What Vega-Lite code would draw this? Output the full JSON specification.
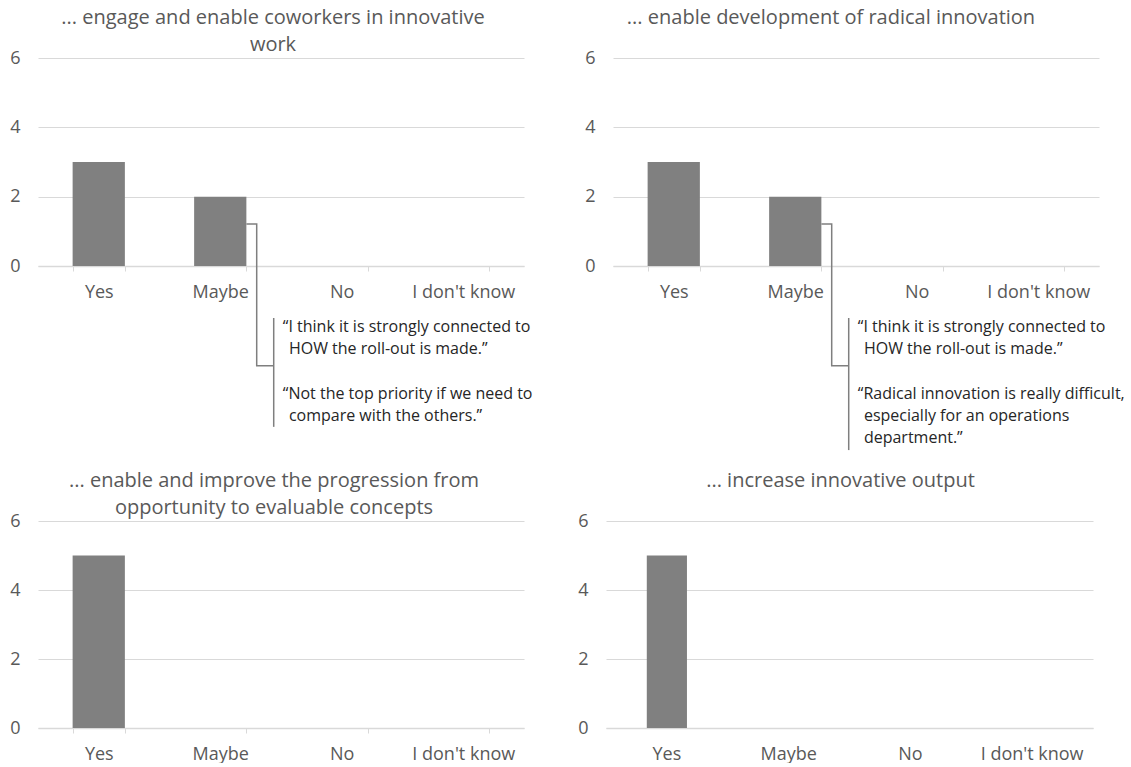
{
  "$schema": "https://vega.github.io/schema/vega-lite/v6.json",
  "padding": {"left": 9, "top": 8, "right": 0, "bottom": 0},
  "background": "white",
  "datasets": {
    "bars": [
      {"panel": "p1", "cat": "Yes", "n": 3},
      {"panel": "p1", "cat": "Maybe", "n": 2},
      {"panel": "p1", "cat": "No", "n": 0},
      {"panel": "p1", "cat": "I don't know", "n": 0},
      {"panel": "p2", "cat": "Yes", "n": 3},
      {"panel": "p2", "cat": "Maybe", "n": 2},
      {"panel": "p2", "cat": "No", "n": 0},
      {"panel": "p2", "cat": "I don't know", "n": 0},
      {"panel": "p3", "cat": "Yes", "n": 5},
      {"panel": "p3", "cat": "Maybe", "n": 0},
      {"panel": "p3", "cat": "No", "n": 0},
      {"panel": "p3", "cat": "I don't know", "n": 0},
      {"panel": "p4", "cat": "Yes", "n": 5},
      {"panel": "p4", "cat": "Maybe", "n": 0},
      {"panel": "p4", "cat": "No", "n": 0},
      {"panel": "p4", "cat": "I don't know", "n": 0}
    ],
    "links": [
      {"panel": "p1", "seg": "c", "ord": 1, "ax": 1.715, "ay": 1.21},
      {"panel": "p1", "seg": "c", "ord": 2, "ax": 1.80, "ay": 1.21},
      {"panel": "p1", "seg": "c", "ord": 3, "ax": 1.80, "ay": -2.88},
      {"panel": "p1", "seg": "c", "ord": 4, "ax": 1.94, "ay": -2.88},
      {"panel": "p1", "seg": "b", "ord": 1, "ax": 1.94, "ay": -1.50},
      {"panel": "p1", "seg": "b", "ord": 2, "ax": 1.94, "ay": -4.64},
      {"panel": "p2", "seg": "c", "ord": 1, "ax": 1.715, "ay": 1.21},
      {"panel": "p2", "seg": "c", "ord": 2, "ax": 1.80, "ay": 1.21},
      {"panel": "p2", "seg": "c", "ord": 3, "ax": 1.80, "ay": -2.88},
      {"panel": "p2", "seg": "c", "ord": 4, "ax": 1.94, "ay": -2.88},
      {"panel": "p2", "seg": "b", "ord": 1, "ax": 1.94, "ay": -1.50},
      {"panel": "p2", "seg": "b", "ord": 2, "ax": 1.94, "ay": -5.31}
    ],
    "notes": [
      {"panel": "p1", "ax": 2.015, "ay": -1.76, "t": "“I think it is strongly connected to"},
      {"panel": "p1", "ax": 2.065, "ay": -2.39, "t": "HOW the roll-out is made.”"},
      {"panel": "p1", "ax": 2.015, "ay": -3.69, "t": "“Not the top priority if we need to"},
      {"panel": "p1", "ax": 2.065, "ay": -4.33, "t": "compare with the others.”"},
      {"panel": "p2", "ax": 2.015, "ay": -1.76, "t": "“I think it is strongly connected to"},
      {"panel": "p2", "ax": 2.065, "ay": -2.39, "t": "HOW the roll-out is made.”"},
      {"panel": "p2", "ax": 2.015, "ay": -3.69, "t": "“Radical innovation is really difficult,"},
      {"panel": "p2", "ax": 2.065, "ay": -4.33, "t": "especially for an operations"},
      {"panel": "p2", "ax": 2.065, "ay": -4.96, "t": "department.”"}
    ]
  },
  "config": {
    "font": "Open Sans",
    "view": {"stroke": null},
    "title": {"fontSize": 20, "fontWeight": "normal", "color": "#595959", "lineHeight": 27, "anchor": "middle", "font": "Open Sans"},
    "axis": {"labelFont": "Open Sans", "labelFontSize": 18, "labelColor": "#595959", "title": null, "gridColor": "#d9d9d9", "domainColor": "#d9d9d9", "tickColor": "#d9d9d9"},
    "axisY": {"domain": false, "ticks": false, "labelPadding": 18, "grid": true},
    "axisX": {"grid": false, "labelAngle": 0, "zindex": 1, "domainWidth": 1.5}
  },
  "vconcat": [
    {
      "hconcat": [
        {
          "width": 486, "height": 208,
          "title": {"text": ["... engage and enable coworkers in innovative", "work"], "dx": -8, "offset": -6},
          "layer": [
            {
              "data": {"name": "bars"},
              "transform": [{"filter": "datum.panel === 'p1'"}],
              "mark": {"type": "bar", "color": "#808080"},
              "encoding": {
                "x": {"field": "cat", "type": "nominal", "sort": null, "scale": {"paddingInner": 0.57, "paddingOuter": 0.285}, "axis": {"tickBand": "extent", "tickSize": 5, "labelPadding": 12}},
                "y": {"field": "n", "type": "quantitative", "scale": {"domain": [0, 6], "nice": false}, "axis": {"values": [0, 2, 4, 6]}}
              }
            },
            {
              "data": {"name": "links"},
              "transform": [{"filter": "datum.panel === 'p1'"}],
              "mark": {"type": "line", "color": "#7f7f7f", "strokeWidth": 1.5, "interpolate": "linear"},
              "encoding": {
                "x": {"field": "ax", "type": "quantitative", "scale": {"domain": [0, 4], "nice": false, "zero": false}, "axis": null},
                "y": {"field": "ay", "type": "quantitative"},
                "detail": {"field": "seg"},
                "order": {"field": "ord"}
              }
            },
            {
              "data": {"name": "notes"},
              "transform": [{"filter": "datum.panel === 'p1'"}],
              "mark": {"type": "text", "align": "left", "baseline": "middle", "fontSize": 16, "color": "#262626"},
              "encoding": {
                "x": {"field": "ax", "type": "quantitative", "scale": {"domain": [0, 4], "nice": false, "zero": false}, "axis": null},
                "y": {"field": "ay", "type": "quantitative"},
                "text": {"field": "t"}
              }
            }
          ],
          "resolve": {"scale": {"x": "independent"}}
        },
        {
          "width": 486, "height": 208,
          "title": {"text": "... enable development of radical innovation", "dx": -25, "offset": 21},
          "layer": [
            {
              "data": {"name": "bars"},
              "transform": [{"filter": "datum.panel === 'p2'"}],
              "mark": {"type": "bar", "color": "#808080"},
              "encoding": {
                "x": {"field": "cat", "type": "nominal", "sort": null, "scale": {"paddingInner": 0.57, "paddingOuter": 0.285}, "axis": {"tickBand": "extent", "tickSize": 5, "labelPadding": 12}},
                "y": {"field": "n", "type": "quantitative", "scale": {"domain": [0, 6], "nice": false}, "axis": {"values": [0, 2, 4, 6]}}
              }
            },
            {
              "data": {"name": "links"},
              "transform": [{"filter": "datum.panel === 'p2'"}],
              "mark": {"type": "line", "color": "#7f7f7f", "strokeWidth": 1.5, "interpolate": "linear"},
              "encoding": {
                "x": {"field": "ax", "type": "quantitative", "scale": {"domain": [0, 4], "nice": false, "zero": false}, "axis": null},
                "y": {"field": "ay", "type": "quantitative"},
                "detail": {"field": "seg"},
                "order": {"field": "ord"}
              }
            },
            {
              "data": {"name": "notes"},
              "transform": [{"filter": "datum.panel === 'p2'"}],
              "mark": {"type": "text", "align": "left", "baseline": "middle", "fontSize": 16, "color": "#262626"},
              "encoding": {
                "x": {"field": "ax", "type": "quantitative", "scale": {"domain": [0, 4], "nice": false, "zero": false}, "axis": null},
                "y": {"field": "ay", "type": "quantitative"},
                "text": {"field": "t"}
              }
            }
          ],
          "resolve": {"scale": {"x": "independent"}}
        }
      ],
      "spacing": 89,
      "bounds": "flush"
    },
    {
      "hconcat": [
        {
          "width": 486, "height": 207,
          "title": {"text": ["... enable and improve the progression from", "opportunity to evaluable concepts"], "dx": -7, "offset": -6},
          "data": {"name": "bars"},
          "transform": [{"filter": "datum.panel === 'p3'"}],
          "mark": {"type": "bar", "color": "#808080"},
          "encoding": {
            "x": {"field": "cat", "type": "nominal", "sort": null, "scale": {"paddingInner": 0.57, "paddingOuter": 0.285}, "axis": {"tickBand": "extent", "tickSize": 5, "labelPadding": 12}},
            "y": {"field": "n", "type": "quantitative", "scale": {"domain": [0, 6], "nice": false}, "axis": {"values": [0, 2, 4, 6]}}
          }
        },
        {
          "width": 487, "height": 207,
          "title": {"text": "... increase innovative output", "dx": -9, "offset": 21},
          "data": {"name": "bars"},
          "transform": [{"filter": "datum.panel === 'p4'"}],
          "mark": {"type": "bar", "color": "#808080"},
          "encoding": {
            "x": {"field": "cat", "type": "nominal", "sort": null, "scale": {"paddingInner": 0.67, "paddingOuter": 0.335}, "axis": {"ticks": false, "tickSize": 0, "labelPadding": 17}},
            "y": {"field": "n", "type": "quantitative", "scale": {"domain": [0, 6], "nice": false}, "axis": {"values": [0, 2, 4, 6]}}
          }
        }
      ],
      "spacing": 82,
      "bounds": "flush"
    }
  ],
  "spacing": 463,
  "bounds": "flush"
}
